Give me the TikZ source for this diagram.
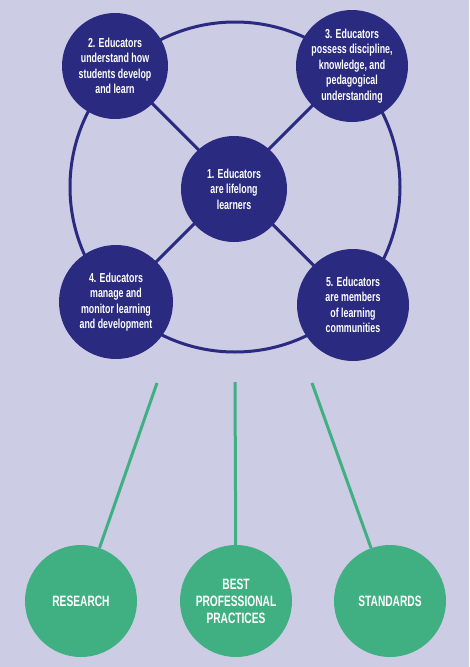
\documentclass[tikz,border=0pt]{standalone}
\usepackage{fontspec}
\setmainfont[FakeStretch=0.68]{Liberation Sans}
\definecolor{bg}{RGB}{204,204,228}
\definecolor{navy}{RGB}{42,42,128}
\definecolor{teal}{RGB}{64,176,130}
\begin{document}
\begin{tikzpicture}[x=1pt,y=-1pt,
  bluecirc/.style={circle,fill=navy,text=white,align=center,inner sep=0pt,
    font=\bfseries\fontsize{13}{15.5}\selectfont},
  greencirc/.style={circle,fill=teal,text=white,align=center,inner sep=0pt,minimum size=112pt,
    font=\bfseries\fontsize{15}{17}\selectfont},
  blueline/.style={navy,line width=3pt},
  greenline/.style={teal,line width=3pt}]
\fill[bg] (0,0) rectangle (469,667);
\useasboundingbox (0,0) rectangle (469,667);
% ring
\coordinate (rc) at (235,187);
\draw[blueline] (rc) circle[radius=165];
% spokes
\coordinate (c2) at (115,66);
\coordinate (c3) at (352,66);
\coordinate (c4) at (116,302);
\coordinate (c5) at (353,305);
\draw[blueline] (c2) -- (c5);
\draw[blueline] (c3) -- (c4);
% circles
\node[bluecirc,minimum size=106pt] (n1) at (234,189) {1. Educators\\are lifelong\\learners};
\node[bluecirc,minimum size=106pt] (n2) at (c2) {2. Educators\\understand how\\students develop\\and learn};
\node[bluecirc,minimum size=112pt] (n3) at (c3) {3. Educators\\possess discipline,\\knowledge, and\\pedagogical\\understanding};
\node[bluecirc,minimum size=114pt] (n4) at (c4) {4. Educators\\manage and\\monitor learning\\and development};
\node[bluecirc,minimum size=112pt] (n5) at (c5) {5. Educators\\are members\\of learning\\communities};
% green
\node[greencirc] (g1) at (81,601) {RESEARCH};
\node[greencirc] (g2) at (236,601) {BEST\\PROFESSIONAL\\PRACTICES};
\node[greencirc] (g3) at (390,601) {STANDARDS};
\coordinate (t1) at (157,383);
\coordinate (t2) at (235,382);
\coordinate (t3) at (312,383);
\draw[greenline] (t1) -- (g1);
\draw[greenline] (t2) -- (g2);
\draw[greenline] (t3) -- (g3);
\end{tikzpicture}
\end{document}
